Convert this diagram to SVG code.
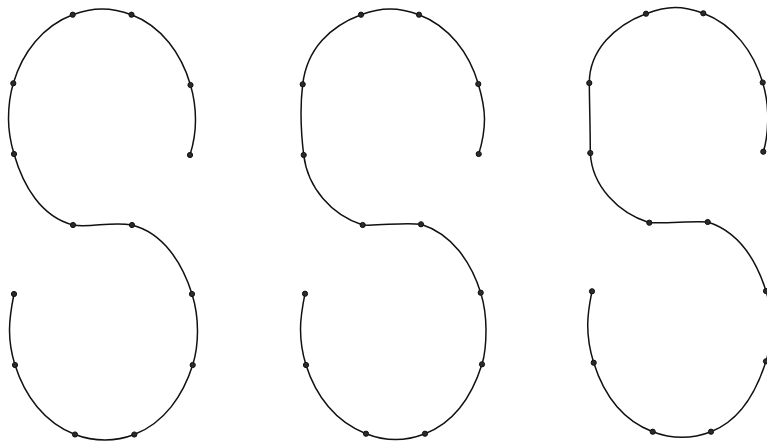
<svg xmlns="http://www.w3.org/2000/svg" width="767" height="443" viewBox="0 0 767 443">
<style>
.c{fill:none;stroke:#111;stroke-width:1.5;stroke-linecap:round;stroke-linejoin:round}
.d circle{fill:#2a2a2a;stroke:#111;stroke-width:1}
</style>
<rect width="767" height="443" fill="#fff"/>
<g id="curve1">
<path class="c" d="M190,155 C193.6,143.6 195.5,132 195.5,120 C195.5,108 193.9,96.5 190.5,85 C181.5,54 161.7,26.1 131.5,14.7 C122.1,11.2 112,9 102,9 C92,9 82.1,11.2 72.7,14.7 C42.7,26 22.3,52.6 13.3,83.3 C9.9,94.8 8.5,107 8.5,119 C8.5,131 10.6,142.5 14,154 C23.2,185.7 41,216.8 73,225 C90,228 112,221 132,225 C163.5,233.1 182.3,263.1 192,294 C195.8,306 197.5,318.3 197.5,331 C197.5,342.7 196.2,353.9 192.7,365 C183.1,395.4 164.2,423.1 134.3,434.5 C125,438.1 115,440 105,440 C95,440 84.3,438.1 75,434.5 C44.6,422.9 24.75,395.9 15,365 C11.4,353.6 9.5,342 9.5,330 C9.5,318 11.6,305.8 14,294"/>
<g class="d">
<circle cx="190" cy="155" r="2.6"/><circle cx="190.5" cy="85" r="2.6"/><circle cx="131.5" cy="14.7" r="2.6"/><circle cx="72.7" cy="14.7" r="2.6"/><circle cx="13.3" cy="83.3" r="2.6"/><circle cx="14" cy="154" r="2.6"/><circle cx="73" cy="225" r="2.6"/><circle cx="132" cy="225" r="2.6"/><circle cx="192" cy="294" r="2.6"/><circle cx="192.7" cy="365" r="2.6"/><circle cx="134.3" cy="434.5" r="2.6"/><circle cx="75" cy="434.5" r="2.6"/><circle cx="15" cy="365" r="2.6"/><circle cx="14" cy="294" r="2.6"/>
</g>
</g>
<g id="curve2">
<path class="c" d="M478.7,154 C482.3,142.6 484.5,131 484.5,119 C484.5,107 481.7,95.5 478.3,84 C469.3,53.3 449,26 419,14.7 C409.6,11.2 400,9 390,9 C380,9 370.4,11.2 361,14.7 C330.1,26.3 307,48.6 302.7,84.3 C299.8,108 300.8,131.2 303.7,155 C307.7,187.7 331.3,215.1 362.7,225 C382,226 402,222 421,224.3 C451.9,234.05 470.95,261.8 480.7,292.7 C484.5,304.9 486,317.2 486,330 C486,341.7 485.5,353.2 482,364.3 C472.4,394.7 454.9,422.3 425,433.7 C415.7,437.3 405.5,439.5 395.5,439.5 C385.5,439.5 375.3,437.3 366,433.7 C335.6,422.1 315.75,395.9 306,365 C302.3,353.3 300.5,341.3 300.5,329 C300.5,317 302.6,305.5 305,293.7"/>
<g class="d">
<circle cx="478.7" cy="154" r="2.6"/><circle cx="478.3" cy="84" r="2.6"/><circle cx="419" cy="14.7" r="2.6"/><circle cx="361" cy="14.7" r="2.6"/><circle cx="302.7" cy="84.3" r="2.6"/><circle cx="303.7" cy="155" r="2.6"/><circle cx="362.7" cy="225" r="2.6"/><circle cx="421" cy="224.3" r="2.6"/><circle cx="480.7" cy="292.7" r="2.6"/><circle cx="482" cy="364.3" r="2.6"/><circle cx="425" cy="433.7" r="2.6"/><circle cx="366" cy="433.7" r="2.6"/><circle cx="306" cy="365" r="2.6"/><circle cx="305" cy="293.7" r="2.6"/>
</g>
</g>
<g id="curve3">
<path class="c" d="M763.3,151.7 C766.9,140.3 767.8,129 767.8,117 C767.8,105 766.1,94 762.7,82.5 C753.7,51.8 733.3,24.6 703.3,13.3 C693.9,9.8 685,7.5 675,7.5 C665,7.5 655.4,10.2 646,13.7 C615.1,25.3 589.3,50 589.3,83 C589.5,107 590.3,129 590.3,153 C592,186 617.9,212.8 649.3,222.7 C670,223.5 690,221 707.7,222 C738.7,231.8 756.25,260.1 766,291 C769.8,303 771,314 771,326 C771,338 769.5,350.2 766,361.3 C756.4,391.7 740.9,420.3 711,431.7 C701.7,435.3 692,437.3 682,437.3 C672,437.3 662,435.3 652.7,431.7 C622.3,420.1 603.45,393.6 593.7,362.7 C589.8,350.3 587.7,338 587.7,325 C587.7,312 589.6,303.1 592,291.3"/>
<g class="d">
<circle cx="763.3" cy="151.7" r="2.6"/><circle cx="762.7" cy="82.5" r="2.6"/><circle cx="703.3" cy="13.3" r="2.6"/><circle cx="646" cy="13.7" r="2.6"/><circle cx="589.3" cy="83" r="2.6"/><circle cx="590.3" cy="153" r="2.6"/><circle cx="649.3" cy="222.7" r="2.6"/><circle cx="707.7" cy="222" r="2.6"/><circle cx="766" cy="291" r="2.6"/><circle cx="766" cy="361.3" r="2.6"/><circle cx="711" cy="431.7" r="2.6"/><circle cx="652.7" cy="431.7" r="2.6"/><circle cx="593.7" cy="362.7" r="2.6"/><circle cx="592" cy="291.3" r="2.6"/>
</g>
</g>
</svg>
